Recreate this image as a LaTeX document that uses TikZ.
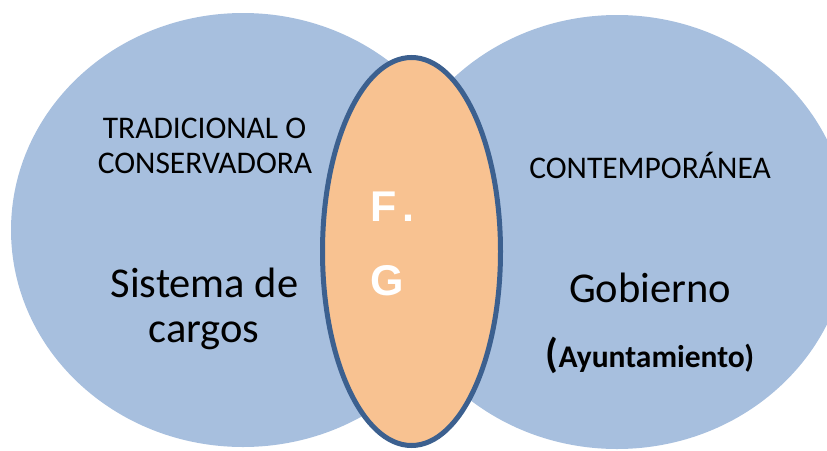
\documentclass[tikz,border=0pt]{standalone}
\usepackage{fontspec}
\setmainfont{Carlito}
\newfontfamily\arialfont{Liberation Sans}
\usetikzlibrary{shapes.geometric,positioning}
\definecolor{bubble}{RGB}{167,191,222}
\definecolor{peach}{RGB}{248,194,145}
\definecolor{rim}{RGB}{60,96,143}

\begin{document}
\begin{tikzpicture}[
    x=1pt, y=-1pt,
    side/.style={ellipse, fill=bubble, inner sep=0pt, minimum width=464, minimum height=434},
    core/.style={ellipse, fill=peach, draw=rim, line width=5pt, inner sep=0pt, minimum width=178, minimum height=388},
    heading/.style={font=\fontsize{31.5}{35}\selectfont, anchor=base, inner sep=0pt},
    topic/.style={font=\fontsize{42.5}{45}\selectfont, anchor=base, inner sep=0pt},
    letter/.style={font=\arialfont\bfseries\fontsize{43}{43}\selectfont, text=white, anchor=base west, inner sep=0pt}
  ]
    \useasboundingbox (0,0) rectangle (827,450);
    \clip (0,0) rectangle (827,450);

    % circles
    \node[side] (left) at (243,230) {};
    \node[side] (right) at (617,232) {};
    \node[core] (middle) at (411.5,251.5) {};

    % left side
    \node[heading] (trad) at (204.5,138) {TRADICIONAL O};
    \node[heading] (cons) at (205,173) {CONSERVADORA};
    \node[topic] (sist) at (204.5,297) {Sistema de};
    \node[topic] (carg) at (204,342) {cargos};

    % middle
    \node[letter] (fdot) at (370,221) {F\hspace{6pt}.};
    \node[letter] (gee) at (370,295) {G};

    % right side
    \node[heading] (cont) at (650,178) {CONTEMPORÁNEA};
    \node[topic] (gob) at (650,302) {Gobierno};
    \node[anchor=base, inner sep=0pt] (ayun) at (650,367)
      {{\fontsize{41}{41}\selectfont\bfseries (}{\fontsize{31.5}{31.5}\selectfont\bfseries Ayuntamiento)}};
  \end{tikzpicture}
\end{document}
